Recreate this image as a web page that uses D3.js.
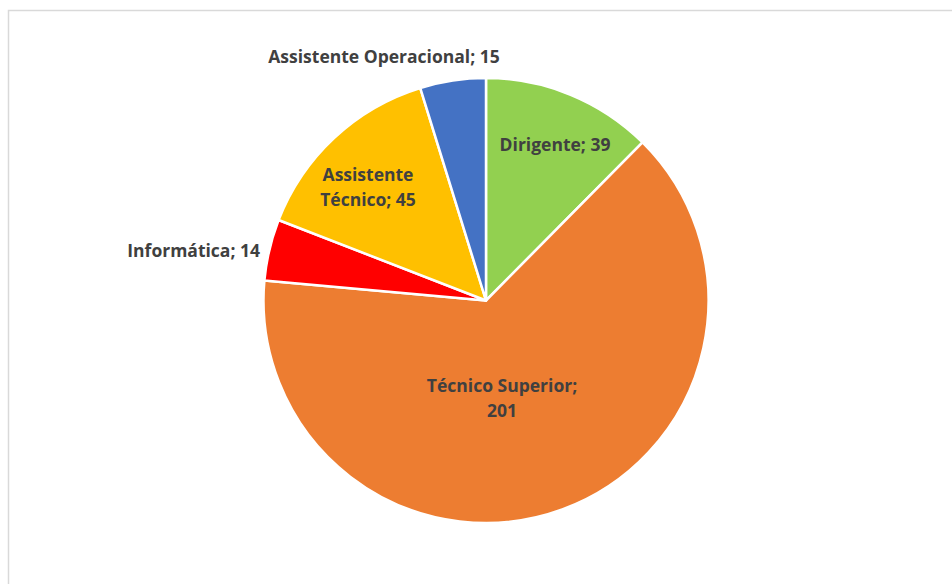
<!DOCTYPE html>
<html>
<head>
<meta charset="utf-8">
<script src="https://cdn.jsdelivr.net/npm/d3@7"></script>
<style>
  html, body { margin: 0; padding: 0; background: #fff; }
  svg { display: block; }
</style>
</head>
<body>
<svg id="chart" width="952" height="584"></svg>
<script>
// Staff by career group
const categories = ["Dirigente", "Técnico Superior", "Informática", "Assistente Técnico", "Assistente Operacional"];
const values = [39, 201, 14, 45, 15];
const colors = ["#92d050", "#ed7d31", "#ff0000", "#ffc000", "#4472c4"];

// Label text lines for each slice
const labelLines = [
  ["Dirigente; 39"],
  ["Técnico Superior;", "201"],
  ["Informática; 14"],
  ["Assistente", "Técnico; 45"],
  ["Assistente Operacional; 15"]
];
// Label anchor, relative to the pie centre
const labelPos = [
  { x: 69, y: -156, anchor: "middle" },
  { x: 16, y: 98, anchor: "middle" },
  { x: -226, y: -50, anchor: "end" },
  { x: -118, y: -113, anchor: "middle" },
  { x: -102, y: -244, anchor: "middle" }
];

const svg = d3.select("#chart");
const W = 952, H = 584;

// chart area border
svg.append("rect")
  .attr("x", 8.5).attr("y", 10.5)
  .attr("width", W + 10).attr("height", H + 10)
  .attr("fill", "#fff")
  .attr("stroke", "#d9d9d9")
  .attr("stroke-width", 1.5);

const cx = 486, cy = 300.5, R = 222.5;

const data = categories.map((c, i) => ({ name: c, value: values[i], i }));
const pie = d3.pie().value(d => d.value).sort(null);
const arc = d3.arc().innerRadius(0).outerRadius(R);

const g = svg.append("g").attr("transform", `translate(${cx},${cy})`);

g.selectAll("path.slice")
  .data(pie(data))
  .join("path")
  .attr("class", "slice")
  .attr("d", arc)
  .attr("fill", d => colors[d.data.i])
  .attr("stroke", "#fff")
  .attr("stroke-width", 2.5)
  .attr("stroke-linejoin", "round");

const labels = g.selectAll("text.lbl")
  .data(data)
  .join("text")
  .attr("class", "lbl")
  .attr("text-anchor", d => labelPos[d.i].anchor)
  .attr("font-family", "'Open Sans', sans-serif")
  .attr("font-weight", "bold")
  .attr("font-size", "17.5px")
  .attr("fill", "#404040");

labels.each(function(d) {
  const p = labelPos[d.i];
  const lines = labelLines[d.i];
  const t = d3.select(this);
  const lh = 25;
  const y0 = p.y - (lines.length - 1) * lh / 2;
  lines.forEach((ln, k) => {
    t.append("tspan")
      .attr("x", p.x)
      .attr("y", y0 + k * lh)
      .attr("dy", "0.35em")
      .text(ln);
  });
});
</script>
</body>
</html>
